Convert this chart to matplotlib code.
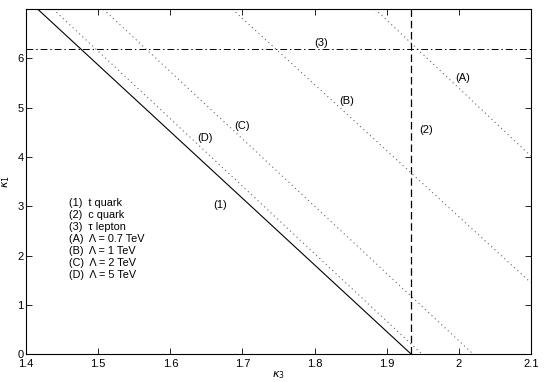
import matplotlib.pyplot as plt

# line endpoints: (kappa3 at top, kappa3 at right/bottom), kappa1
t_quark_x = [1.416, 1.934]
t_quark_y = [7.0, 0.0]
lam_labels = ["A", "B", "C", "D"]
lam_x = [[1.884, 2.1], [1.686, 2.1], [1.507, 2.02], [1.4375, 1.949]]
lam_y = [[7.0, 4.02], [7.0, 1.45], [7.0, 0.0], [7.0, 0.0]]
c_quark_x = 1.934
tau_y = 6.2

legend_lines = [
    "(1)  t quark",
    "(2)  c quark",
    "(3)  \u03c4 lepton",
    "(A)  \u039b = 0.7 TeV",
    "(B)  \u039b = 1 TeV",
    "(C)  \u039b = 2 TeV",
    "(D)  \u039b = 5 TeV",
]

plt.rcParams["mathtext.fontset"] = "dejavusans"
plt.rcParams["font.family"] = ["Liberation Sans", "DejaVu Sans"]

fig = plt.figure(figsize=(5.45, 3.82), dpi=100)
ax = fig.add_axes([0.048, 0.073, 0.926, 0.903])

ax.plot(t_quark_x, t_quark_y, color="black", lw=0.8)
for xs, ys in zip(lam_x, lam_y):
    ax.plot(xs, ys, color="#666666", lw=0.8, linestyle=(0, (1, 3)))
ax.axvline(c_quark_x, color="black", lw=0.9, dashes=(6, 3))
ax.axhline(tau_y, color="black", lw=0.7, dashes=(7, 3, 1.5, 3))

fs = 8
ax.text(1.809, 6.32, "(3)", fontsize=fs, ha="center", va="center")
ax.text(2.005, 5.6, "(A)", fontsize=fs, ha="center", va="center")
ax.text(1.845, 5.13, "(B)", fontsize=fs, ha="center", va="center")
ax.text(1.955, 4.55, "(2)", fontsize=fs, ha="center", va="center")
ax.text(1.70, 4.63, "(C)", fontsize=fs, ha="center", va="center")
ax.text(1.648, 4.38, "(D)", fontsize=fs, ha="center", va="center")
ax.text(1.669, 3.03, "(1)", fontsize=fs, ha="center", va="center")

y0 = 3.07
for i, s in enumerate(legend_lines):
    ax.text(1.46, y0 - i * 0.245, s, fontsize=7.8, ha="left", va="center")

ax.set_xlim(1.4, 2.1)
ax.set_ylim(0, 7)
ax.set_xticks([1.4, 1.5, 1.6, 1.7, 1.8, 1.9, 2.0, 2.1])
ax.set_xticklabels(["1.4", "1.5", "1.6", "1.7", "1.8", "1.9", "2", "2.1"])
ax.set_yticks([0, 1, 2, 3, 4, 5, 6])
ax.tick_params(direction="in", top=True, right=True, labelsize=8, length=4, width=0.6, pad=2)
ax.tick_params(axis="x", pad=3.5)
for sp in ax.spines.values():
    sp.set_linewidth(0.8)

ax.set_xlabel(r"$\kappa_3$", fontsize=8, labelpad=0)
ax.set_ylabel(r"$\kappa_1$", fontsize=8, labelpad=4)

fig.savefig("out.png", dpi=100)
